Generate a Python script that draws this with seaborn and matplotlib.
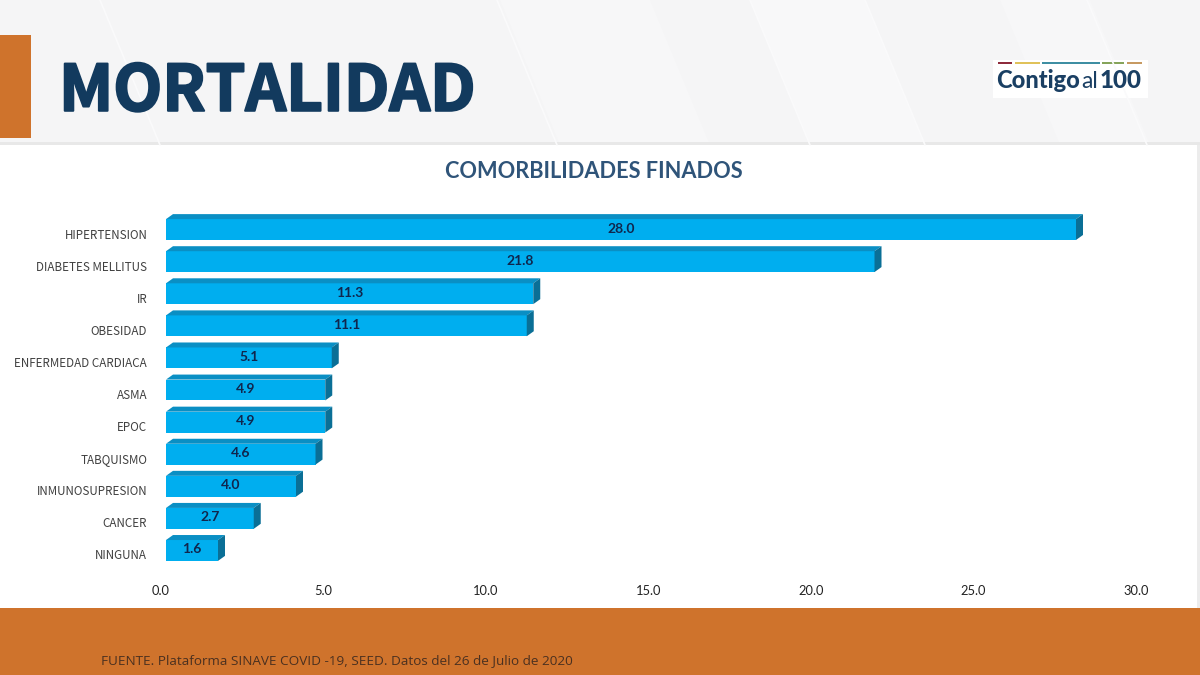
import numpy as np
import pandas as pd
import matplotlib
matplotlib.use("Agg")
import matplotlib.pyplot as plt
import matplotlib.patches as mp
import matplotlib.patheffects as pe
from matplotlib.transforms import ScaledTranslation, IdentityTransform
import seaborn as sns

categories = ["HIPERTENSION", "DIABETES MELLITUS", "IR", "OBESIDAD", "ENFERMEDAD CARDIACA",
              "ASMA", "EPOC", "TABQUISMO", "INMUNOSUPRESION", "CANCER", "NINGUNA"]
values = [28.0, 21.8, 11.3, 11.1, 5.1, 4.9, 4.9, 4.6, 4.0, 2.7, 1.6]
ticks = [0, 5, 10, 15, 20, 25, 30]
title = "MORTALIDAD"
subtitle = "COMORBILIDADES FINADOS"
source = "FUENTE. Plataforma SINAVE COVID -19, SEED. Datos del 26 de Julio de 2020"

W, H = 1200, 675
CJK = "Noto Sans CJK SC"
sns.set_theme(style="white")
plt.rcParams["font.family"] = ["Lato", "DejaVu Sans"]
fig = plt.figure(figsize=(12, 6.75), dpi=100)

# slide background in pixel coordinates
bg = fig.add_axes([0, 0, 1, 1], zorder=0)
bg.set_xlim(0, W); bg.set_ylim(H, 0); bg.axis("off")
bg.add_patch(mp.Rectangle((0, 0), W, 145, color="#f5f5f6", lw=0))
for x0, w, c in [(500, 150, "#f7f7f8"), (750, 115, "#f8f8f9"), (1000, 90, "#f7f7f8")]:
    bg.add_patch(mp.Polygon([(x0, 0), (x0 + w, 0), (x0 + w + 60, 145), (x0 + 60, 145)], color=c, lw=0))
for x0 in [100, 497, 750, 865, 1087]:
    bg.plot([x0, x0 + 60], [0, 145], color="#fafafb", lw=1.2)
bg.add_patch(mp.Rectangle((0, 145), 1197, 463, color="white", lw=0))
bg.add_patch(mp.Rectangle((1197, 145), 3, 463, color="#ececec", lw=0))
bg.add_patch(mp.Rectangle((0, 142), W, 3, color="#e8e8e8", lw=0))
bg.add_patch(mp.Rectangle((0, 607.5), W, 68, color="#cf732c", lw=0))
bg.add_patch(mp.Rectangle((0, 35), 31, 103, color="#cf732c", lw=0))
bg.text(59, 92, title, fontsize=45.8, fontweight="black", color="#123a5e", va="center", ha="left",
        family=CJK, path_effects=[pe.withStroke(linewidth=1.5, foreground="#123a5e")])
bg.text(593.5, 171, subtitle, fontsize=15.7, fontweight="bold", color="#2f5479", va="center", ha="center")
bg.text(101, 661, source, fontsize=9.7, color="#4a3020", va="center", ha="left", family="Open Sans")

# logo
bg.add_patch(mp.Rectangle((993, 60), 155, 38, color="white", lw=0))
for x, w, c in [(998, 14, "#8e2b3c"), (1015, 25, "#e0c25a"), (1042, 58, "#3f8fa3"), (1102, 22, "#86a45a"), (1127, 15, "#c79a62")]:
    bg.add_patch(mp.Rectangle((x, 62), w, 2, color=c, lw=0))
bg.text(996, 81, "Contigo", fontsize=17, fontweight="black", color="#1a3f63", va="center", ha="left")
bg.text(1081, 82, "al", fontsize=16.5, color="#1a3f63", va="center", ha="left")
bg.text(1100, 81, "100", fontsize=17.5, fontweight="black", color="#1a3f63", va="center", ha="left")

# chart
left, right, top, bottom = 166, 1141, 213.5, 566.5
ax = fig.add_axes([left / W, 1 - bottom / H, (right - left) / W, (bottom - top) / H], zorder=1)
ax.patch.set_alpha(0)
df = pd.DataFrame({"cat": categories, "val": values})
sns.barplot(data=df, y="cat", x="val", ax=ax, color="#00aeef", saturation=1, width=0.65,
            orient="h", linewidth=0)
ax.set_xlim(0, 30)
ax.set_xlabel(""); ax.set_ylabel("")
sns.despine(ax=ax, left=True, bottom=True)
ax.set_xticks(ticks)
ax.set_xticklabels([f"{t:.1f}" for t in ticks], fontsize=9.3, color="#222222")
ax.tick_params(axis="both", length=0)
ax.tick_params(axis="y", pad=13.5)
ax.tick_params(axis="x", pad=13)
ax.set_yticklabels(categories, fontsize=8.4, color="#404040", family=CJK)
for lab in ax.get_xticklabels():
    lab.set_transform(lab.get_transform() + ScaledTranslation(-5 / 100, 0, fig.dpi_scale_trans))
for lab in ax.get_yticklabels():
    lab.set_transform(lab.get_transform() + ScaledTranslation(0, -4 / 100, fig.dpi_scale_trans))

# 3-D extrusion derived from each bar's display box
dx, dy = 7, 5
for bar, v in zip(ax.patches, values):
    b = bar.get_window_extent(fig.canvas.get_renderer())
    x0, x1, y0, y1 = b.x0, b.x1, b.y0, b.y1
    ax.add_patch(mp.Polygon([(x0, y1), (x1, y1), (x1 + dx, y1 + dy), (x0 + dx, y1 + dy)],
                            transform=IdentityTransform(), color="#0a8fc4", lw=0, clip_on=False))
    ax.add_patch(mp.Polygon([(x1, y0), (x1 + dx, y0 + dy), (x1 + dx, y1 + dy), (x1, y1)],
                            transform=IdentityTransform(), color="#0a6f96", lw=0, clip_on=False))
    ax.text(v / 2, bar.get_y() + bar.get_height() / 2 - 0.03, f"{v:.1f}", ha="center", va="center",
            fontsize=10, fontweight="bold", color="#10264d")

fig.savefig("out.png", dpi=100)
